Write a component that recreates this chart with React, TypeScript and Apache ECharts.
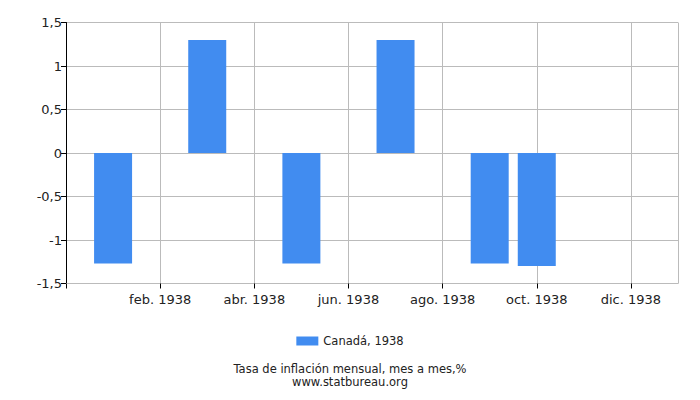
import React, { useEffect, useRef } from "react";
import * as echarts from "echarts";

const months: string[] = [
  "dic. 1937", "ene. 1938", "feb. 1938", "mar. 1938", "abr. 1938", "may. 1938", "jun. 1938",
  "jul. 1938", "ago. 1938", "sep. 1938", "oct. 1938", "nov. 1938", "dic. 1938", "ene. 1939",
];
const canadaValues: (number | null)[] = [
  null, -1.27, null, 1.3, null, -1.27, null, 1.3, null, -1.27, -1.3, null, null, null,
];
const seriesName = "Canadá, 1938";
const titleLine1 = "Tasa de inflación mensual, mes a mes,%";
const titleLine2 = "www.statbureau.org";

const FONT = "DejaVu Sans";

export default function App() {
  const ref = useRef<HTMLDivElement>(null);
  useEffect(() => {
    if (!ref.current) return;
    const chart = echarts.init(ref.current, undefined, { renderer: "svg" });
    const last = months.length - 1;
    chart.setOption({
      animation: false,
      textStyle: { fontFamily: FONT },
      grid: { left: 66, right: 22, top: 22.5, bottom: 116.5, containLabel: false },
      legend: {
        data: [seriesName],
        left: "center",
        top: 330,
        itemWidth: 22,
        itemHeight: 9,
        itemGap: 5,
        icon: "rect",
        textStyle: { fontFamily: FONT, fontSize: 11.5, color: "#222" },
      },
      graphic: [
        {
          type: "text",
          left: "center",
          top: 362,
          style: {
            text: titleLine1 + "\n" + titleLine2,
            font: `11.5px '${FONT}'`,
            lineHeight: 13.5,
            textAlign: "center",
            fill: "#222",
          },
        },
      ],
      xAxis: {
        type: "category",
        data: months,
        boundaryGap: false,
        axisLine: { show: true, onZero: false, lineStyle: { color: "#bbb" } },
        axisTick: {
          show: true,
          length: 5,
          interval: (i: number) => i % 2 === 0 && i < last,
          lineStyle: { color: "#000" },
        },
        axisLabel: {
          interval: (i: number) => i % 2 === 0 && i > 0 && i < last,
          margin: 9,
          fontSize: 13,
          color: "#222",
          fontFamily: FONT,
        },
        splitLine: {
          show: true,
          interval: (i: number) => i > 0 && (i % 2 === 0 || i === last),
          lineStyle: { color: "#bbb" },
        },
      },
      yAxis: {
        type: "value",
        min: -1.5,
        max: 1.5,
        interval: 0.5,
        axisLine: { show: true, lineStyle: { color: "#000" } },
        axisTick: { show: true, length: 5, lineStyle: { color: "#000" } },
        axisLabel: {
          fontSize: 13,
          color: "#222",
          margin: 4,
          fontFamily: FONT,
          formatter: (v: number) => String(Math.round(v * 10) / 10).replace(".", ","),
        },
        splitLine: { show: true, lineStyle: { color: "#bbb" } },
      },
      series: [
        {
          name: seriesName,
          type: "bar",
          data: canadaValues,
          barWidth: 38,
          itemStyle: { color: "#418CF0" },
        },
      ],
    });
    return () => chart.dispose();
  }, []);
  return (
    <div
      ref={ref}
      style={{ position: "fixed", left: 0, top: 0, width: 700, height: 400, background: "#fff" }}
    />
  );
}
